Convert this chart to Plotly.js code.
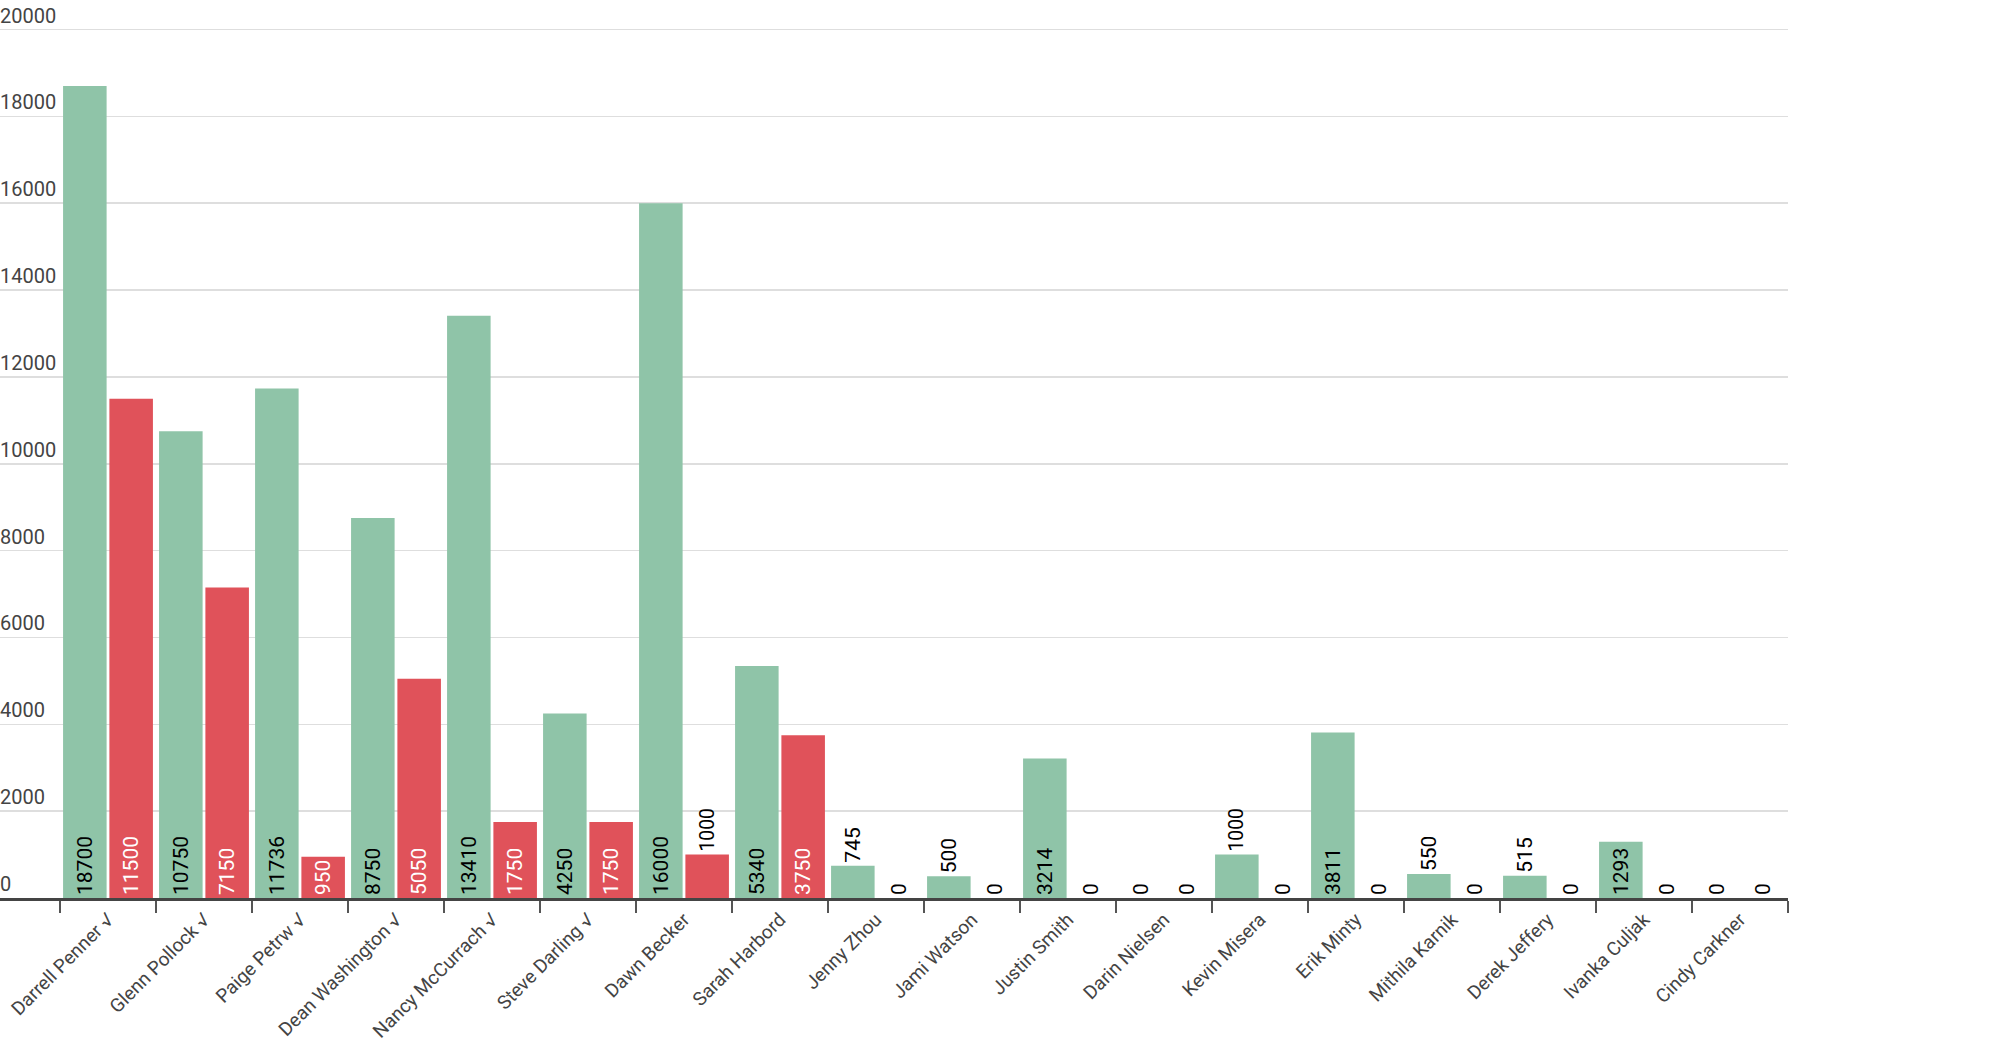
<!DOCTYPE html>
<html>
<head>
<meta charset="utf-8">
<script src="https://cdn.plot.ly/plotly-3.0.1.min.js"></script>
<style>
    html, body { margin: 0; padding: 0; background: #fff; }
    #plot { width: 2000px; height: 1048px; }
</style>
</head>
<body>
<div id="plot"></div>
<script>
// chart data
const people = [
    "Darrell Penner √", "Glenn Pollock √", "Paige Petrw √", "Dean Washington √",
    "Nancy McCurrach √", "Steve Darling √", "Dawn Becker", "Sarah Harbord",
    "Jenny Zhou", "Jami Watson", "Justin Smith", "Darin Nielsen",
    "Kevin Misera", "Erik Minty", "Mithila Karnik", "Derek Jeffery",
    "Ivanka Culjak", "Cindy Carkner"
]
const green_values = [18700, 10750, 11736, 8750, 13410, 4250, 16000, 5340, 745, 500, 3214, 0, 1000, 3811, 550, 515, 1293, 0]
const red_values = [11500, 7150, 950, 5050, 1750, 1750, 1000, 3750, 0, 0, 0, 0, 0, 0, 0, 0, 0, 0]
const y_ticks = [0, 2000, 4000, 6000, 8000, 10000, 12000, 14000, 16000, 18000, 20000]

const plot_height = 898
const y_max = 20680
const px_per_unit = plot_height / y_max

// label goes inside the bar only when the bar is tall enough for it
function text_positions(values) {
    return values.map(v => {
        let needed = String(v).length * 11.5 + 6
        return (v > 0 && v * px_per_unit >= needed) ? "inside" : "outside"
    })
}

function bar_trace(values, color, inside_color) {
    return {
        type: "bar",
        x: people,
        y: values,
        text: values.map(v => String(v)),
        textposition: text_positions(values),
        insidetextanchor: "start",
        textangle: -90,
        texttemplate: "%{text}",
        insidetextfont: {family: "Roboto, sans-serif", size: 21, color: inside_color},
        outsidetextfont: {family: "Roboto, sans-serif", size: 21, color: "#000"},
        cliponaxis: false,
        marker: {color: color, line: {width: 0}},
        hoverinfo: "skip",
    }
}

let data = [
    bar_trace(green_values, "#8fc4a8", "#000"),
    bar_trace(red_values, "#e0525a", "#fff"),
]

let layout = {
    width: 2000,
    height: 1048,
    margin: {l: 0, r: 212, t: 0, b: 150},
    paper_bgcolor: "#fff",
    plot_bgcolor: "#fff",
    showlegend: false,
    barmode: "group",
    bargap: 0.035,
    bargroupgap: 0.06,
    xaxis: {
        type: "category",
        range: [-1.125, 17.5],
        tickson: "boundaries",
        ticks: "outside",
        ticklen: 12,
        tickwidth: 1.5,
        tickcolor: "#555",
        tickangle: -45,
        showgrid: false,
        showline: true,
        linecolor: "#444",
        linewidth: 3,
        tickfont: {family: "Roboto, sans-serif", size: 19, color: "#444"},
    },
    yaxis: {
        range: [0, y_max],
        tickvals: y_ticks,
        ticktext: y_ticks.map(v => String(v)),
        ticklabelposition: "inside top",
        ticklabelstandoff: -3,
        ticks: "",
        showline: false,
        zeroline: false,
        showgrid: true,
        gridcolor: "#dedede",
        gridwidth: 1.5,
        tickfont: {family: "Roboto, sans-serif", size: 20, color: "#444"},
    },
}

let config = {
    staticPlot: true,
    displayModeBar: false,
}

Plotly.newPlot("plot", data, layout, config)
</script>
</body>
</html>
